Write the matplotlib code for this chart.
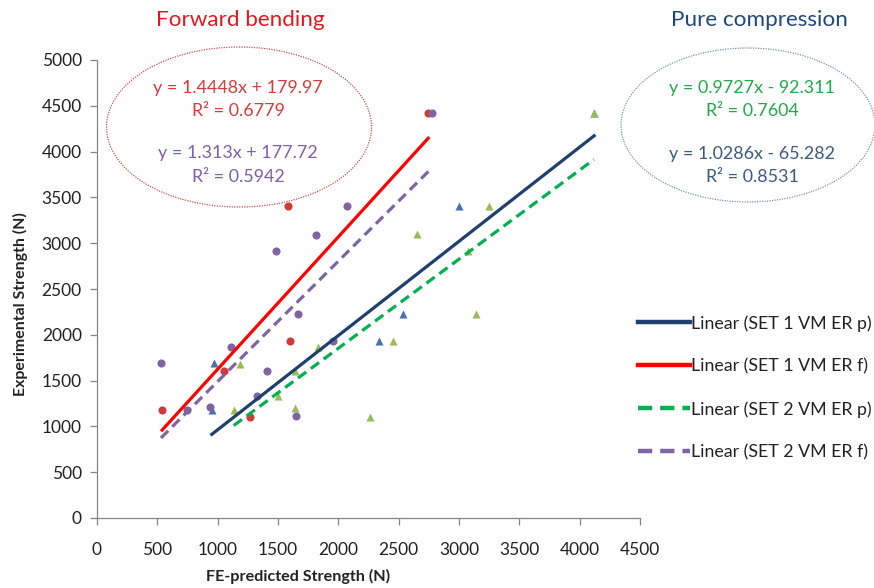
import matplotlib
matplotlib.use("Agg")
import matplotlib.pyplot as plt
from matplotlib.patches import Ellipse
import numpy as np

plt.rcParams['font.family'] = ['Lato', 'DejaVu Sans']

# Measured strengths: FE-predicted (x) vs experimental (y), in N
set1_p_x = [951, 968, 2333, 2532, 3002, 4120]
set1_p_y = [1179, 1689, 1932, 2224, 3410, 4418]

set1_f_x = [540, 1056, 1272, 1587, 1600, 2745]
set1_f_y = [1183, 1605, 1108, 3410, 1932, 4418]

set2_p_x = [1133, 1183, 1501, 1639, 1639, 1835, 2261, 2455, 2648, 3071, 3137, 3248, 4118]
set2_p_y = [1179, 1685, 1332, 1205, 1600, 1866, 1108, 1932, 3097, 2918, 2224, 3410, 4418]

set2_f_x = [530, 746, 934, 1110, 1330, 1407, 1482, 1650, 1667, 1811, 1955, 2068, 2773]
set2_f_y = [1690, 1179, 1208, 1870, 1330, 1605, 2912, 1110, 2224, 3090, 1932, 3410, 4418]

# Linear trendline coefficients (slope, intercept) and R^2
fit_set1_p = (1.0286, -65.282, 0.8531)
fit_set1_f = (1.4448, 179.97, 0.6779)
fit_set2_p = (0.9727, -92.311, 0.7604)
fit_set2_f = (1.313, 177.72, 0.5942)

legend_labels = ["Linear (SET 1 VM ER p)", "Linear (SET 1 VM ER f)",
                 "Linear (SET 2 VM ER p)", "Linear (SET 2 VM ER f)"]

W, H = 874, 588
fig = plt.figure(figsize=(W / 100, H / 100), dpi=100)
ax = fig.add_axes([97 / W, 1 - 518 / H, (640 - 97) / W, (518 - 60) / H])

c_blue_m, c_red_m, c_green_m, c_purple_m = '#4a72b0', '#d23a3a', '#9bbb59', '#8064a2'
c_blue_l, c_red_l, c_green_l, c_purple_l = '#1f3f6e', '#ff0000', '#00b050', '#8064a2'

ms = 34
ax.scatter(set1_p_x, set1_p_y, marker='^', s=ms, color=c_blue_m, zorder=3, linewidths=0)
ax.scatter(set1_f_x, set1_f_y, marker='o', s=ms, color=c_red_m, zorder=3, linewidths=0)
ax.scatter(set2_p_x, set2_p_y, marker='^', s=ms, color=c_green_m, zorder=3, linewidths=0)
ax.scatter(set2_f_x, set2_f_y, marker='o', s=ms, color=c_purple_m, zorder=3, linewidths=0)

def trend(xs, fit):
    x = np.array([min(xs), max(xs)], dtype=float)
    return x, fit[0] * x + fit[1]

dash = (3.2, 1.8)
lw = 2.3
l1, = ax.plot(*trend(set1_p_x, fit_set1_p), color=c_blue_l, lw=lw, zorder=4)
l2, = ax.plot(*trend(set1_f_x, fit_set1_f), color=c_red_l, lw=lw, zorder=4)
l3, = ax.plot(*trend(set2_p_x, fit_set2_p), color=c_green_l, lw=lw, dashes=dash, zorder=4)
l4, = ax.plot(*trend(set2_f_x, fit_set2_f), color=c_purple_l, lw=lw, dashes=dash, zorder=4)

ax.set_xlim(0, 4500)
ax.set_ylim(0, 5000)
ax.set_xticks(np.arange(0, 4501, 500))
ax.set_yticks(np.arange(0, 5001, 500))
for s in ['top', 'right']:
    ax.spines[s].set_visible(False)
for s in ['left', 'bottom']:
    ax.spines[s].set_color('#868686')
    ax.spines[s].set_linewidth(0.9)
ax.tick_params(axis='both', colors='#868686', labelcolor='#222222',
               labelsize=12.5, length=5, width=0.9, direction='out')
ax.tick_params(axis='x', pad=12)
ax.tick_params(axis='y', pad=6)

# Overlay in pixel coordinates for titles, ellipses and equations
ov = fig.add_axes([0, 0, 1, 1], zorder=5)
ov.set_xlim(0, W)
ov.set_ylim(H, 0)
ov.axis('off')
ov.patch.set_alpha(0)

ov.text(298, 576, "FE-predicted Strength (N)", ha='center', va='center',
        fontsize=11.6, fontweight='bold', color='#222222')
ov.text(20, 304, "Experimental Strength (N)", ha='center', va='center',
        fontsize=11.4, fontweight='bold', color='#222222', rotation=90)

ov.text(240, 20, "Forward bending", ha='center', va='center', fontsize=16.2, color='#e0191f')
ov.text(759, 20, "Pure compression", ha='center', va='center', fontsize=16.2, color='#1f497d')

ov.add_patch(Ellipse((239, 127), 265, 160, fill=False, ec='#d05050', lw=0.9,
                     ls=(0, (1, 1))))
ov.add_patch(Ellipse((748, 125), 254, 154, fill=False, ec='#7f93ad', lw=0.9,
                     ls=(0, (1, 1))))

def eq(fit):
    sign = '+' if fit[1] >= 0 else '-'
    return f"y = {fit[0]}x {sign} {abs(fit[1])}", f"R\u00b2 = {fit[2]:.4f}"

eq_fs = 12.9
for fit, col, cx, y0 in [(fit_set1_f, '#dc3a3a', 238, 88),
                         (fit_set2_f, '#7f5fa8', 238, 153),
                         (fit_set2_p, '#22a84a', 752, 88),
                         (fit_set1_p, '#3b5a80', 752, 154)]:
    a, b = eq(fit)
    ov.text(cx, y0, a, ha='center', va='center', fontsize=eq_fs, color=col)
    ov.text(cx, y0 + 23.5, b, ha='center', va='center', fontsize=eq_fs, color=col)

leg = fig.legend([l1, l2, l3, l4], legend_labels, loc='upper left',
                 bbox_to_anchor=(622 / W, 1 - 299 / H), frameon=False,
                 fontsize=12.8, handlelength=2.9, handletextpad=0.1,
                 labelspacing=1.5, labelcolor='#222222')
for h in leg.legend_handles:
    h.set_linewidth(3.2)

fig.savefig("out.png", dpi=100, facecolor='white')
